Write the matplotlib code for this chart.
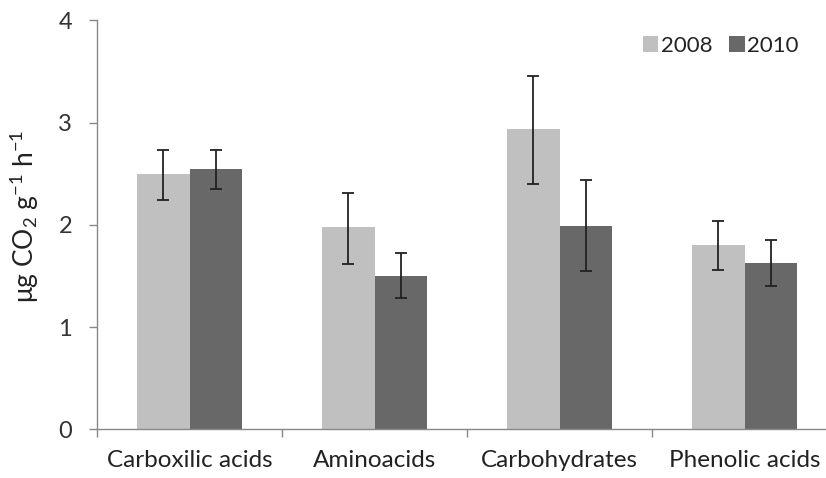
import matplotlib
matplotlib.use("Agg")
import matplotlib.pyplot as plt
import numpy as np

categories = ["Carboxilic acids", "Aminoacids", "Carbohydrates", "Phenolic acids"]
series_names = ["2008", "2010"]
values_2008 = [2.50, 1.98, 2.94, 1.80]
values_2010 = [2.55, 1.50, 1.99, 1.63]
err_lo_2008 = [2.24, 1.62, 2.40, 1.56]
err_hi_2008 = [2.73, 2.31, 3.46, 2.04]
err_lo_2010 = [2.35, 1.28, 1.55, 1.40]
err_hi_2010 = [2.73, 1.72, 2.44, 1.85]
yticks = [0, 1, 2, 3, 4]

plt.rcParams['font.family'] = ['Lato', 'DejaVu Sans']
plt.rcParams['mathtext.default'] = 'regular'

fig = plt.figure(figsize=(8.26, 4.78), dpi=100)
W, H = 826, 478
left, right, bottom, top = 97, 837, 429.3, 20.4
ax = fig.add_axes([left / W, 1 - bottom / H, (right - left) / W, (bottom - top) / H])

x = np.arange(len(categories))
w = 1 / 3.5
c08, c10 = "#c0c0c0", "#686868"
v08 = np.array(values_2008); v10 = np.array(values_2010)
yerr08 = [v08 - np.array(err_lo_2008), np.array(err_hi_2008) - v08]
yerr10 = [v10 - np.array(err_lo_2010), np.array(err_hi_2010) - v10]
ax.bar(x - w / 2, v08, w, color=c08, label=series_names[0], zorder=2)
ax.bar(x + w / 2, v10, w, color=c10, label=series_names[1], zorder=2)
ekw = dict(fmt='none', ecolor='#222222', elinewidth=1.3, capsize=4.3, capthick=1.3, zorder=3)
ax.errorbar(x - w / 2, v08, yerr=yerr08, **ekw)
ax.errorbar(x + w / 2, v10, yerr=yerr10, **ekw)

ax.set_xlim(-0.5, 3.5)
ax.set_ylim(0, 4)
ax.set_yticks(yticks)
ax.set_yticklabels([str(t) for t in yticks], fontsize=17, color="#333333")
ax.set_xticks(np.arange(-0.5, 3.6, 1.0))
ax.set_xticklabels([])
ax.set_xticks(x, minor=True)
ax.set_xticklabels(categories, minor=True, fontsize=17.5, color="#222222")
ax.tick_params(axis='x', which='minor', length=0, pad=15)
ax.tick_params(axis='x', which='major', length=6, color="#888888", width=1)
ax.tick_params(axis='y', length=6, color="#888888", width=1, pad=12)
for s in ['top', 'right']:
    ax.spines[s].set_visible(False)
for s in ['left', 'bottom']:
    ax.spines[s].set_color("#888888")
    ax.spines[s].set_linewidth(1)

ax.set_ylabel("μg CO$_2$ g$^{-1}$ h$^{-1}$", fontsize=19, color="#222222")
ax.yaxis.set_label_coords(-0.076, 0.52)

leg = ax.legend(loc='upper right', bbox_to_anchor=((799 - left) / (right - left), 0.962),
                frameon=False, ncol=2, fontsize=16, handlelength=0.7, handleheight=0.7,
                handletextpad=0.12, columnspacing=0.75, borderaxespad=0.0, borderpad=0.0)
for t in leg.get_texts():
    t.set_color("#222222")

fig.savefig("out.png", dpi=100)
